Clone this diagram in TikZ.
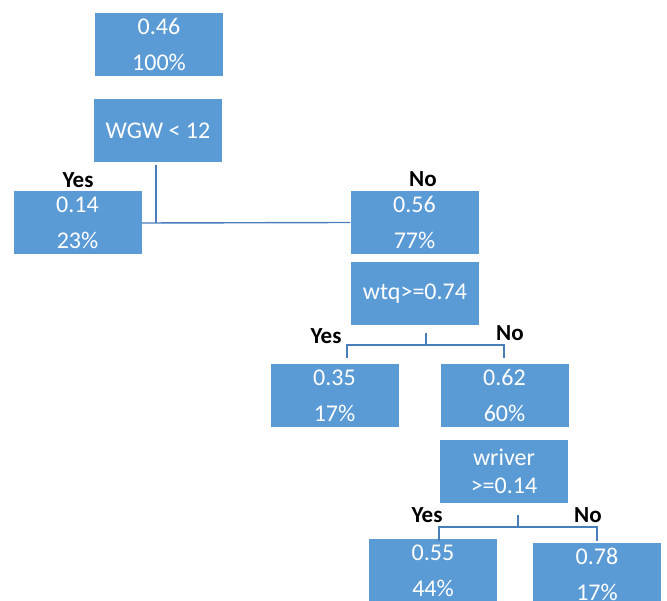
\documentclass[tikz,border=0pt]{standalone}
\usepackage{fontspec}
\setmainfont{Carlito}
\usepackage{tikz}
\usetikzlibrary{calc}
\definecolor{leaf}{HTML}{5B9BD5}
\definecolor{edge}{HTML}{4A7EBB}

\begin{document}
\begin{tikzpicture}[x=1pt,y=-1pt,
  box/.style={fill=leaf,text=white,minimum width=128pt,minimum height=63pt,inner sep=0pt,align=center,font=\fontsize{24}{28}\selectfont},
  lab/.style={font=\fontsize{23}{27}\selectfont\bfseries},
  link/.style={draw=edge,line width=1.4pt}]
\useasboundingbox (0,0) rectangle (667,601);
% nodes of the tree
\node[box] (root) at (159,44.5) {0.46\\[8pt]100\%};
\node[box] (wgw) at (158,131) {WGW < 12};
\node[box] (n014) at (77.5,223) {0.14\\[8pt]23\%};
\node[box] (n056) at (414.5,222.5) {0.56\\[8pt]77\%};
\node[box] (wtq) at (415,294) {wtq>=0.74};
\node[box] (n035) at (334.5,395.5) {0.35\\[8pt]17\%};
\node[box] (n062) at (504.5,395.5) {0.62\\[8pt]60\%};
\node[box] (wriver) at (504,471.5) {wriver\\>=0.14};
\node[box] (n055) at (433,570.5) {0.55\\[8pt]44\%};
\node[box] (n078) at (597,574.5) {0.78\\[8pt]17\%};
% branch labels
\node[lab] (yes1) at (78,180) {Yes};
\node[lab] (no1) at (423,179) {No};
\node[lab] (yes2) at (326,336) {Yes};
\node[lab] (no2) at (510,333) {No};
\node[lab] (yes3) at (427,515) {Yes};
\node[lab] (no3) at (588,515) {No};
% splits
\coordinate (j1) at (156,223);
\draw[link] ($(j1 |- wgw.south)+(0,2)$) -- (j1);
\draw[link] (n014.east) -- (n056.west);
\coordinate (j2) at (426,345);
\coordinate (d2l) at (347,358);
\coordinate (d2r) at (504,358);
\draw[link] ($(j2 |- wtq.south)+(0,7)$) -- (j2);
\draw[link] (d2l) -- (d2l |- j2) -| (d2r);
\coordinate (j3) at (518,527);
\coordinate (d3l) at (439,541);
\coordinate (d3r) at (597,541);
\draw[link] ($(j3 |- wriver.south)+(0,12)$) -- (j3);
\draw[link] (d3l) -- (d3l |- j3) -| (d3r);
\end{tikzpicture}
\end{document}
